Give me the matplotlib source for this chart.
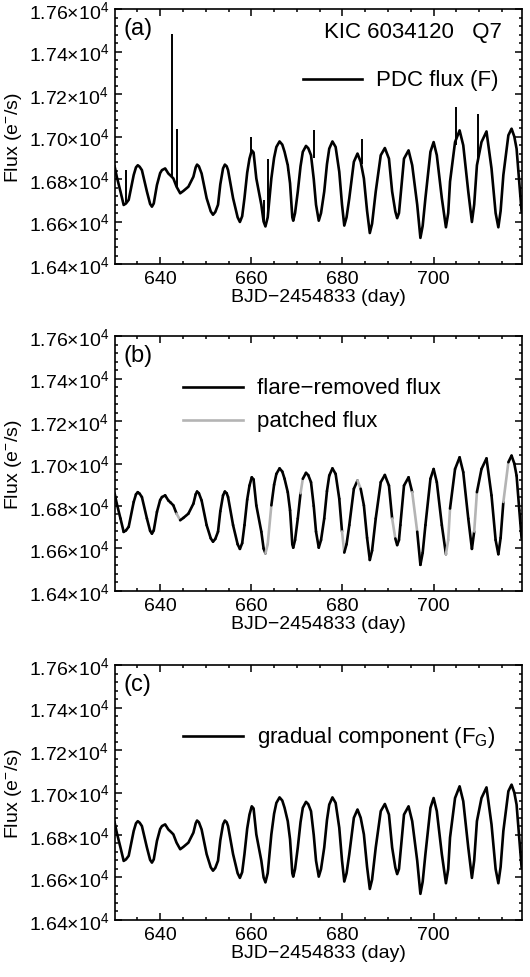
import numpy as np
import matplotlib
matplotlib.use("Agg")
import matplotlib.pyplot as plt
from matplotlib.ticker import MultipleLocator, FuncFormatter
from matplotlib.collections import LineCollection

plt.rcParams['font.family'] = ['Liberation Sans', 'DejaVu Sans']
plt.rcParams['mathtext.default'] = 'regular'

# light curve (BJD-2454833, e-/s), flares excluded
time = [630.0, 630.5, 631.3, 632.0, 632.5, 633.1, 634.2, 634.7, 635.1, 635.5,
        636.0, 637.1, 637.8, 638.2, 638.6, 639.3, 640.0, 640.4, 641.1, 641.8,
        642.3, 642.9, 643.6, 644.4, 645.1, 646.2, 647.3, 647.8, 648.1, 648.5,
        649.1, 650.2, 651.1, 651.6, 652.1, 652.7, 653.2, 653.8, 654.2, 654.6,
        654.9, 656.0, 657.0, 657.5, 658.0, 658.5, 659.1, 659.6, 660.1, 660.5,
        661.1, 662.2, 662.7, 663.1, 663.6, 664.4, 665.0, 665.5, 666.2, 666.8,
        667.3, 668.0, 668.5, 669.0, 669.2, 669.6, 670.2, 670.8, 671.3, 672.0,
        672.5, 673.1, 673.7, 674.2, 674.8, 675.3, 676.0, 676.6, 677.1, 677.8,
        678.5, 679.3, 679.9, 680.4, 680.9, 681.5, 682.5, 683.3, 684.0, 684.7,
        685.4, 686.0, 686.5, 687.3, 688.4, 689.3, 690.2, 690.9, 691.6, 692.0,
        692.4, 692.7, 693.5, 694.5, 695.3, 696.4, 697.1, 697.6, 698.2, 699.3,
        700.0, 700.7, 701.8, 702.7, 703.2, 703.6, 704.7, 705.7, 706.5, 707.6,
        708.4, 708.9, 709.5, 710.5, 711.6, 712.7, 713.6, 714.2, 714.7, 715.3,
        716.4, 717.1, 717.7, 718.2, 718.8, 719.3]
flux = [16860, 16810, 16741, 16678, 16685, 16702, 16819, 16855, 16865, 16858,
        16842, 16741, 16683, 16670, 16685, 16772, 16828, 16842, 16850, 16826,
        16816, 16803, 16764, 16733, 16744, 16764, 16811, 16855, 16868, 16860,
        16826, 16710, 16648, 16632, 16645, 16679, 16775, 16850, 16868, 16860,
        16842, 16710, 16620, 16598, 16625, 16710, 16830, 16896, 16935, 16925,
        16803, 16679, 16600, 16577, 16620, 16803, 16900, 16951, 16977, 16962,
        16928, 16865, 16780, 16620, 16604, 16640, 16741, 16860, 16928, 16956,
        16945, 16912, 16800, 16679, 16604, 16640, 16741, 16870, 16943, 16977,
        16951, 16834, 16680, 16581, 16620, 16710, 16881, 16920, 16881, 16803,
        16650, 16546, 16590, 16741, 16912, 16946, 16896, 16741, 16647, 16616,
        16640, 16710, 16896, 16935, 16865, 16679, 16523, 16580, 16710, 16928,
        16974, 16912, 16710, 16573, 16640, 16788, 16974, 17029, 16959, 16741,
        16598, 16680, 16865, 16974, 17024, 16850, 16640, 16573, 16650, 16819,
        17006, 17037, 17000, 16943, 16780, 16647]

# flare spikes in the PDC flux: time, foot, top
flare_t = [632.6, 642.5, 643.6, 660.0, 662.8, 663.6, 668.1, 673.8, 684.2, 704.9, 709.8]
flare_lo = [16690, 16816, 16764, 16920, 16590, 16640, 16840, 16900, 16870, 16960, 16880]
flare_hi = [16842, 17483, 17037, 16998, 16702, 16896, 16873, 17029, 16990, 17138, 17107]

# start times of the patched (gray) pieces in panel (b)
patch_t = [643.6, 663.1, 663.6, 670.8, 679.9, 683.3, 690.9, 695.3,
           702.7, 703.2, 708.9, 715.3]

t = np.array(time)
f = np.array(flux)

fig = plt.figure(figsize=(5.30, 9.78), dpi=100)
left, width, height = 0.217, 0.768, 0.2607
bottoms = [0.7290, 0.3947, 0.0583]
axes = [fig.add_axes([left, b, width, height]) for b in bottoms]

lw = 1.9
fs = 14
gray = '#b4b4b4'

for ax in axes:
    ax.set_xlim(630.1, 719.4)
    ax.set_ylim(16400, 17600)
    ax.xaxis.set_major_locator(MultipleLocator(20))
    ax.xaxis.set_minor_locator(MultipleLocator(5))
    ax.yaxis.set_major_locator(MultipleLocator(200))
    ax.yaxis.set_minor_locator(MultipleLocator(40))
    ax.yaxis.set_major_formatter(FuncFormatter(lambda v, p: f'{v/1e4:.2f}×10$^{{4}}$'))
    ax.tick_params(which='both', direction='in', top=True, right=True, labelsize=fs, width=1.1)
    ax.tick_params(which='major', length=5, pad=4)
    ax.tick_params(which='minor', length=2.5)
    for s in ax.spines.values():
        s.set_linewidth(1.2)
    ax.set_xlabel('BJD\u22122454833 (day)', fontsize=fs, labelpad=1)
    ax.set_ylabel('Flux (e$^{-}$/s)', fontsize=fs, labelpad=4)

# (a) PDC flux with flares
ax = axes[0]
ax.plot(t, f, color='k', lw=lw, solid_joinstyle='round')
ax.vlines(flare_t, flare_lo, flare_hi, color='k', lw=1.4)
ax.text(0.02, 0.925, '(a)', transform=ax.transAxes, fontsize=17, va='center')
ax.text(0.951, 0.914, 'KIC 6034120   Q7', transform=ax.transAxes, fontsize=16, ha='right', va='center')
ax.plot([0.462, 0.606], [0.725, 0.725], transform=ax.transAxes, color='k', lw=lw)
ax.text(0.642, 0.725, 'PDC flux (F)', transform=ax.transAxes, fontsize=16, va='center')

# (b) flare-removed flux, patched pieces in gray
ax = axes[1]
segs = np.stack([np.column_stack([t[:-1], f[:-1]]), np.column_stack([t[1:], f[1:]])], axis=1)
cols = [gray if x in patch_t else 'k' for x in time[:-1]]
ax.add_collection(LineCollection(segs, colors=cols, linewidths=lw, capstyle='round'))
ax.text(0.02, 0.925, '(b)', transform=ax.transAxes, fontsize=17, va='center')
ax.plot([0.167, 0.314], [0.80, 0.80], transform=ax.transAxes, color='k', lw=lw)
ax.text(0.348, 0.80, 'flare\u2212removed flux', transform=ax.transAxes, fontsize=16, va='center')
ax.plot([0.167, 0.314], [0.67, 0.67], transform=ax.transAxes, color=gray, lw=lw)
ax.text(0.348, 0.67, 'patched flux', transform=ax.transAxes, fontsize=16, va='center')

# (c) gradual component
ax = axes[2]
ax.plot(t, f, color='k', lw=lw, solid_joinstyle='round')
ax.text(0.02, 0.925, '(c)', transform=ax.transAxes, fontsize=17, va='center')
ax.plot([0.167, 0.314], [0.72, 0.72], transform=ax.transAxes, color='k', lw=lw)
ax.text(0.348, 0.72, 'gradual component (F$_{G}$)', transform=ax.transAxes, fontsize=16, va='center')

fig.savefig('out.png', dpi=100)
